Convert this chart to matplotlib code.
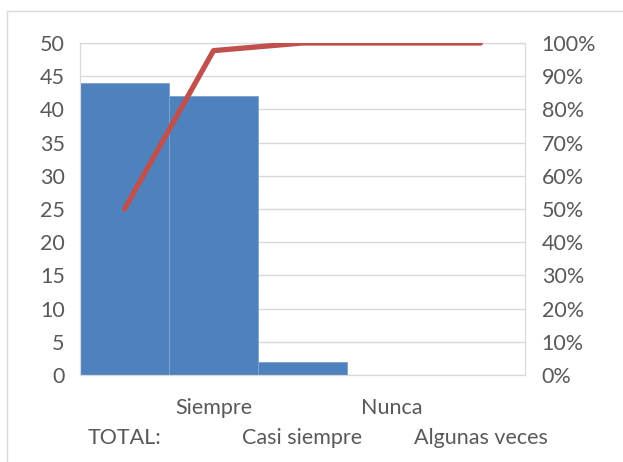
import numpy as np
import matplotlib.pyplot as plt
import matplotlib as mpl
from matplotlib.patches import Rectangle

mpl.rcParams['font.family'] = ['Lato', 'DejaVu Sans']
mpl.rcParams['font.size'] = 15.5

# Data
categories = ['TOTAL:', 'Siempre', 'Casi siempre', 'Nunca', 'Algunas veces']
counts = [44, 42, 2, 0, 0]
cumulative_pct = [50, 97.7, 100, 100, 100]

W, H = 623, 462
fig = plt.figure(figsize=(W / 100, H / 100), dpi=100)
ax = fig.add_axes([80 / W, 1 - 375 / H, 445 / W, 332 / H])

# frame around the chart area
fig.patches.append(Rectangle((7 / W, -0.1), 1.2, 1 - 11 / H + 0.1,
                             transform=fig.transFigure, fill=False,
                             edgecolor='#d9d9d9', linewidth=1))

x = np.arange(len(categories))
ax.bar(x, counts, width=1.0, color='#4f81bd', edgecolor='#7ea2d3',
       linewidth=0.6, zorder=2)

ax.set_xlim(-0.5, len(categories) - 0.5)
ax.set_ylim(0, 50)
ax.set_yticks(np.arange(0, 51, 5))
ax.grid(axis='y', color='#d9d9d9', linewidth=1, zorder=0)
ax.set_axisbelow(True)
for s in ax.spines.values():
    s.set_color('#d9d9d9')
ax.tick_params(axis='y', length=0, colors='#595959', pad=11)
ax.tick_params(axis='x', length=0)
ax.set_xticks(x)
ax.set_xticklabels([])

# staggered category labels
for i, name in enumerate(categories):
    yoff = -45 if i % 2 == 0 else -24
    ax.annotate(name, (i, 0), xytext=(0, yoff), textcoords='offset points',
                xycoords=('data', 'data'), ha='center', va='center',
                color='#595959', fontsize=15.5, annotation_clip=False)

ax2 = ax.twinx()
ax2.plot(x, cumulative_pct, color='#c0504d', linewidth=3.8,
         solid_capstyle='round', solid_joinstyle='round', zorder=3)
ax2.set_ylim(0, 100)
ax2.set_yticks(np.arange(0, 101, 10))
ax2.set_yticklabels([f'{v}%' for v in range(0, 101, 10)])
ax2.tick_params(axis='y', length=0, colors='#595959', pad=12)
for s in ax2.spines.values():
    s.set_color('#d9d9d9')

fig.savefig('out.png', dpi=100)
